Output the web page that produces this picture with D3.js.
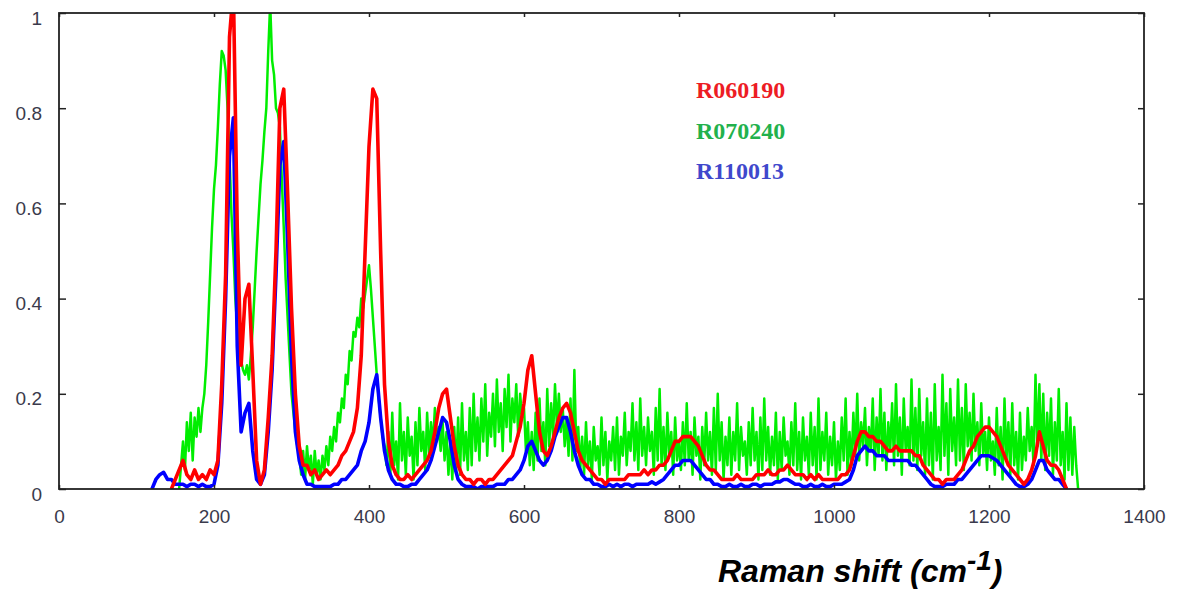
<!DOCTYPE html>
<html><head><meta charset="utf-8">
<script src="https://cdn.jsdelivr.net/npm/d3@7"></script>
<style>body{margin:0;background:#fff} svg{display:block}</style>
</head><body><svg id="chart" width="1184" height="592"></svg>
<script>
// ---- data (Raman shift in cm-1; each series sampled at a fixed spacing from its start) ----
const seriesNames = ["R060190", "R070240", "R110013"];
const startR060190 = 145, stepR060190 = 5;
const startR070240 = 155, stepR070240 = 2.5;
const startR110013 = 120, stepR110013 = 5;
const xTicks = [0, 200, 400, 600, 800, 1000, 1200, 1400];
const yTicks = [0, 0.2, 0.4, 0.6, 0.8, 1];
const yTickLabels = ["0", "0.2", "0.4", "0.6", "0.8", "1"];

const R060190 = [
0.00,0.02,0.04,0.06,0.03,0.02,0.04,0.02,0.03,0.02,0.04,0.03,
0.06,0.22,0.45,0.95,1.05,0.55,0.26,0.40,0.43,0.25,0.06,0.01,0.04,0.15,0.28,0.50,0.80,0.84,0.62,0.38,0.20,0.09,
0.05,0.05,0.03,0.04,0.02,0.03,0.04,0.03,0.04,0.05,0.07,0.08,0.10,0.12,0.17,0.28,0.50,0.72,0.84,0.82,0.50,0.22,0.10,0.05,
0.03,0.02,0.02,0.03,0.02,0.03,0.04,0.05,0.06,0.08,0.12,0.17,0.20,0.21,0.15,0.09,0.05,0.03,
0.02,0.02,0.01,0.02,0.02,0.01,0.02,0.02,0.03,0.04,0.05,0.06,0.07,0.10,0.13,0.18,0.25,0.28,0.20,0.12,0.08,0.07,
0.09,0.12,0.15,0.17,0.18,0.16,0.12,0.08,0.06,0.05,0.04,0.03,0.02,0.02,0.01,0.02,0.02,0.02,0.02,0.02,0.03,0.03,
0.03,0.03,0.04,0.03,0.04,0.04,0.05,0.05,0.06,0.08,0.10,0.10,0.11,0.11,0.11,0.10,0.09,0.07,0.05,0.04,0.04,0.03,
0.02,0.02,0.02,0.02,0.03,0.02,0.02,0.02,0.02,0.03,0.03,0.03,0.04,0.03,0.03,0.04,0.04,0.05,0.04,0.03,0.03,0.03,
0.02,0.03,0.02,0.03,0.02,0.02,0.02,0.02,0.02,0.03,0.03,0.04,0.07,0.10,0.12,0.12,0.11,0.11,0.10,0.10,0.09,0.08,
0.08,0.09,0.08,0.08,0.08,0.08,0.07,0.07,0.05,0.04,0.03,0.02,0.02,0.01,0.02,0.02,0.02,0.03,0.04,0.06,0.08,0.09,
0.11,0.12,0.13,0.13,0.12,0.11,0.09,0.07,0.05,0.04,0.03,0.02,0.01,0.02,0.04,0.07,0.12,0.09,0.06,0.05,0.05,0.04,
0.02,0.00
];

const R070240 = [
0.00,0.05,0.10,0.04,0.14,0.08,0.16,0.06,0.15,0.11,0.17,0.12,0.17,0.20,0.26,0.35,0.45,0.55,0.63,0.68,
0.76,0.85,0.92,0.91,0.88,0.80,0.70,0.58,0.50,0.40,0.34,0.30,0.27,0.25,0.24,0.26,0.23,0.28,0.34,0.42,
0.50,0.57,0.64,0.69,0.75,0.80,0.92,1.02,0.90,0.87,0.80,0.79,0.76,0.65,0.55,0.44,0.36,0.28,0.20,0.16,
0.12,0.09,0.07,0.03,0.08,0.02,0.09,0.04,0.07,0.01,0.08,0.03,0.06,0.02,0.07,0.04,0.09,0.05,0.11,0.08,
0.13,0.10,0.16,0.14,0.19,0.17,0.24,0.22,0.29,0.27,0.33,0.32,0.36,0.34,0.40,0.38,0.41,0.44,0.47,0.42,
0.36,0.30,0.24,0.19,0.15,0.11,0.09,0.05,0.12,0.03,0.16,0.05,0.10,0.02,0.18,0.06,0.12,0.03,0.15,0.07,
0.11,0.02,0.14,0.05,0.17,0.08,0.12,0.04,0.16,0.07,0.14,0.09,0.17,0.10,0.13,0.08,0.14,0.06,0.12,0.03,
0.10,0.02,0.13,0.04,0.15,0.03,0.18,0.06,0.12,0.04,0.17,0.05,0.20,0.08,0.15,0.06,0.19,0.10,0.22,0.07,
0.16,0.11,0.20,0.09,0.23,0.12,0.18,0.08,0.21,0.13,0.24,0.10,0.19,0.14,0.22,0.11,0.20,0.15,0.17,0.08,
0.14,0.05,0.12,0.04,0.16,0.06,0.19,0.08,0.14,0.05,0.21,0.09,0.18,0.11,0.22,0.13,0.20,0.12,0.17,0.09,
0.15,0.07,0.19,0.06,0.25,0.08,0.13,0.04,0.11,0.03,0.14,0.05,0.10,0.02,0.13,0.06,0.09,0.03,0.15,0.05,
0.12,0.02,0.10,0.06,0.13,0.04,0.15,0.03,0.11,0.07,0.16,0.05,0.12,0.08,0.18,0.06,0.14,0.04,0.19,0.07,
0.13,0.05,0.15,0.08,0.12,0.03,0.17,0.06,0.21,0.05,0.13,0.04,0.16,0.07,0.12,0.03,0.15,0.06,0.10,0.04,
0.14,0.05,0.18,0.06,0.12,0.03,0.15,0.07,0.11,0.02,0.13,0.05,0.16,0.06,0.12,0.03,0.17,0.04,0.20,0.06,
0.14,0.02,0.11,0.05,0.15,0.03,0.12,0.06,0.18,0.04,0.13,0.07,0.10,0.03,0.14,0.05,0.17,0.06,0.12,0.02,
0.15,0.04,0.19,0.06,0.13,0.03,0.11,0.05,0.16,0.02,0.12,0.04,0.15,0.07,0.10,0.03,0.14,0.05,0.18,0.04,
0.12,0.02,0.15,0.06,0.11,0.03,0.16,0.05,0.13,0.02,0.19,0.04,0.12,0.06,0.16,0.03,0.11,0.05,0.14,0.02,
0.10,0.04,0.15,0.06,0.19,0.03,0.12,0.05,0.16,0.07,0.20,0.06,0.14,0.09,0.17,0.05,0.13,0.08,0.19,0.04,
0.15,0.07,0.21,0.06,0.16,0.04,0.14,0.08,0.18,0.05,0.22,0.07,0.15,0.03,0.19,0.08,0.13,0.05,0.23,0.06,
0.17,0.04,0.21,0.07,0.14,0.03,0.19,0.05,0.16,0.02,0.22,0.06,0.13,0.04,0.24,0.07,0.18,0.03,0.21,0.08,
0.15,0.05,0.23,0.06,0.17,0.04,0.22,0.09,0.16,0.06,0.20,0.08,0.14,0.05,0.18,0.07,0.12,0.04,0.15,0.06,
0.10,0.03,0.17,0.05,0.13,0.02,0.19,0.06,0.14,0.03,0.18,0.05,0.12,0.02,0.16,0.04,0.11,0.06,0.17,0.08,
0.13,0.05,0.24,0.09,0.22,0.06,0.20,0.04,0.16,0.07,0.19,0.03,0.14,0.06,0.21,0.05,0.12,0.02,0.18,0.04,
0.15,0.03,0.13,0.05,0.00
];

const R110013 = [
0.00,0.02,0.03,0.035,0.02,0.02,0.01,0.01,0.01,0.005,0.01,0.01,0.005,0.01,0.005,0.005,0.01,
0.05,0.18,0.40,0.70,0.78,0.30,0.12,0.16,0.18,0.08,0.02,0.01,0.03,0.12,0.25,0.45,0.68,0.73,0.52,0.28,0.12,0.06,
0.03,0.01,0.01,0.005,0.005,0.005,0.005,0.005,0.01,0.01,0.02,0.02,0.03,0.04,0.05,0.08,0.10,0.14,0.21,0.24,0.15,0.08,0.04,0.02,
0.01,0.01,0.005,0.005,0.01,0.01,0.02,0.03,0.04,0.06,0.09,0.12,0.15,0.14,0.10,0.05,0.02,0.01,
0.005,0.005,0.005,0.00,0.005,0.005,0.005,0.005,0.01,0.01,0.01,0.02,0.02,0.03,0.04,0.06,0.09,0.10,0.08,0.06,0.05,0.06,
0.08,0.11,0.13,0.15,0.15,0.12,0.08,0.05,0.03,0.02,0.02,0.01,0.01,
0.005,0.005,0.01,0.005,0.01,0.005,0.01,0.01,0.005,0.01,0.01,0.01,0.01,0.015,0.01,0.015,
0.02,0.03,0.04,0.05,0.05,0.06,0.06,0.06,0.05,0.04,0.03,0.02,0.02,0.01,0.01,
0.005,0.005,0.01,0.005,0.005,0.01,0.005,0.005,0.01,0.01,0.005,0.01,0.01,0.01,0.015,0.015,0.02,0.02,0.015,0.01,0.01,0.005,
0.005,0.01,0.005,0.005,0.01,0.005,0.005,0.01,0.01,0.01,0.015,
0.02,0.04,0.07,0.08,0.09,0.08,0.08,0.07,0.07,0.07,0.06,0.06,0.06,0.06,0.06,0.06,0.05,0.05,0.04,0.03,0.02,0.01,
0.005,0.005,0.005,0.01,0.01,0.01,0.02,0.02,0.03,0.04,0.05,0.06,0.07,0.07,0.07,0.065,0.06,0.05,0.04,0.03,0.02,0.01,
0.005,0.005,0.01,0.02,0.04,0.06,0.06,0.04,0.03,0.02,0.02,0.01,0.00
];

const seriesColors = ["#ff0000", "#00ee00", "#0000ff"];
const legendColors = ["#ed1c24", "#22b14c", "#3f48cc"];

// ---- layout ----
const svg = d3.select("#chart");
const plot = {left: 59, top: 13, right: 1144, bottom: 489};
const x = d3.scaleLinear().domain([0, 1400]).range([plot.left, plot.right]);
const y = d3.scaleLinear().domain([0, 1]).range([plot.bottom, plot.top]);

svg.append("defs").append("clipPath").attr("id", "clip")
  .append("rect").attr("x", plot.left).attr("y", plot.top)
  .attr("width", plot.right - plot.left).attr("height", plot.bottom - plot.top);

function toPoints(values, start, step) {
  return values.map((v, i) => [start + i * step, v]);
}
const seriesData = [
  {name: "R070240", pts: toPoints(R070240, startR070240, stepR070240), color: seriesColors[1], w: 2.5},
  {name: "R110013", pts: toPoints(R110013, startR110013, stepR110013), color: seriesColors[2], w: 3.6},
  {name: "R060190", pts: toPoints(R060190, startR060190, stepR060190), color: seriesColors[0], w: 3.6}
];

const line = d3.line().x(d => x(d[0])).y(d => y(d[1])).curve(d3.curveLinear);
const g = svg.append("g").attr("clip-path", "url(#clip)");
seriesData.forEach(s => {
  g.append("path").datum(s.pts).attr("d", line)
    .attr("fill", "none").attr("stroke", s.color).attr("stroke-width", s.w)
    .attr("stroke-linejoin", "round");
});

// ---- axes ----
const labelFont = "'Liberation Sans', Arial, sans-serif";
const axColor = "#222";
const bottomAxis = svg.append("g").attr("transform", `translate(0,${plot.bottom})`)
  .call(d3.axisBottom(x).tickValues(xTicks).tickFormat(d3.format("d")).tickSizeInner(-4).tickSizeOuter(0).tickPadding(21));
const topAxis = svg.append("g").attr("transform", `translate(0,${plot.top})`)
  .call(d3.axisTop(x).tickValues(xTicks).tickFormat("").tickSizeInner(-4).tickSizeOuter(0));
const leftAxis = svg.append("g").attr("transform", `translate(${plot.left},0)`)
  .call(d3.axisLeft(y).tickValues(yTicks).tickFormat((d, i) => yTickLabels[i]).tickSizeInner(-7).tickSizeOuter(0).tickPadding(17));
const rightAxis = svg.append("g").attr("transform", `translate(${plot.right},0)`)
  .call(d3.axisRight(y).tickValues(yTicks).tickFormat("").tickSizeInner(-6).tickSizeOuter(0));

[bottomAxis, topAxis, leftAxis, rightAxis].forEach(a => {
  a.select(".domain").remove();
  a.selectAll(".tick line").attr("stroke", axColor).attr("stroke-width", 1.5);
  a.selectAll("text").attr("font-family", labelFont).attr("font-size", 19).attr("fill", "#3a3a4c");
});
leftAxis.selectAll("text").attr("dy", "0.32em").attr("y", 5);
bottomAxis.selectAll("text").attr("dy", "0.71em");

svg.append("rect").attr("x", plot.left).attr("y", plot.top)
  .attr("width", plot.right - plot.left).attr("height", plot.bottom - plot.top)
  .attr("fill", "none").attr("stroke", axColor).attr("stroke-width", 1.8);

// ---- x title ----
const title = svg.append("text").attr("x", 718).attr("y", 582)
  .attr("font-family", labelFont).attr("font-weight", "bold").attr("font-style", "italic")
  .attr("font-size", 32).attr("fill", "#000");
title.append("tspan").text("Raman shift (cm");
title.append("tspan").attr("dy", -12).attr("font-size", 28).text("-1");
title.append("tspan").attr("dy", 12).text(")");

// ---- legend ----
seriesNames.forEach((n, i) => {
  svg.append("text").attr("x", 696).attr("y", 98 + i * 40.5)
    .attr("font-family", "'Liberation Serif', 'Times New Roman', serif")
    .attr("font-weight", "bold").attr("font-size", 24)
    .attr("fill", legendColors[i]).text(n);
});
</script></body></html>
